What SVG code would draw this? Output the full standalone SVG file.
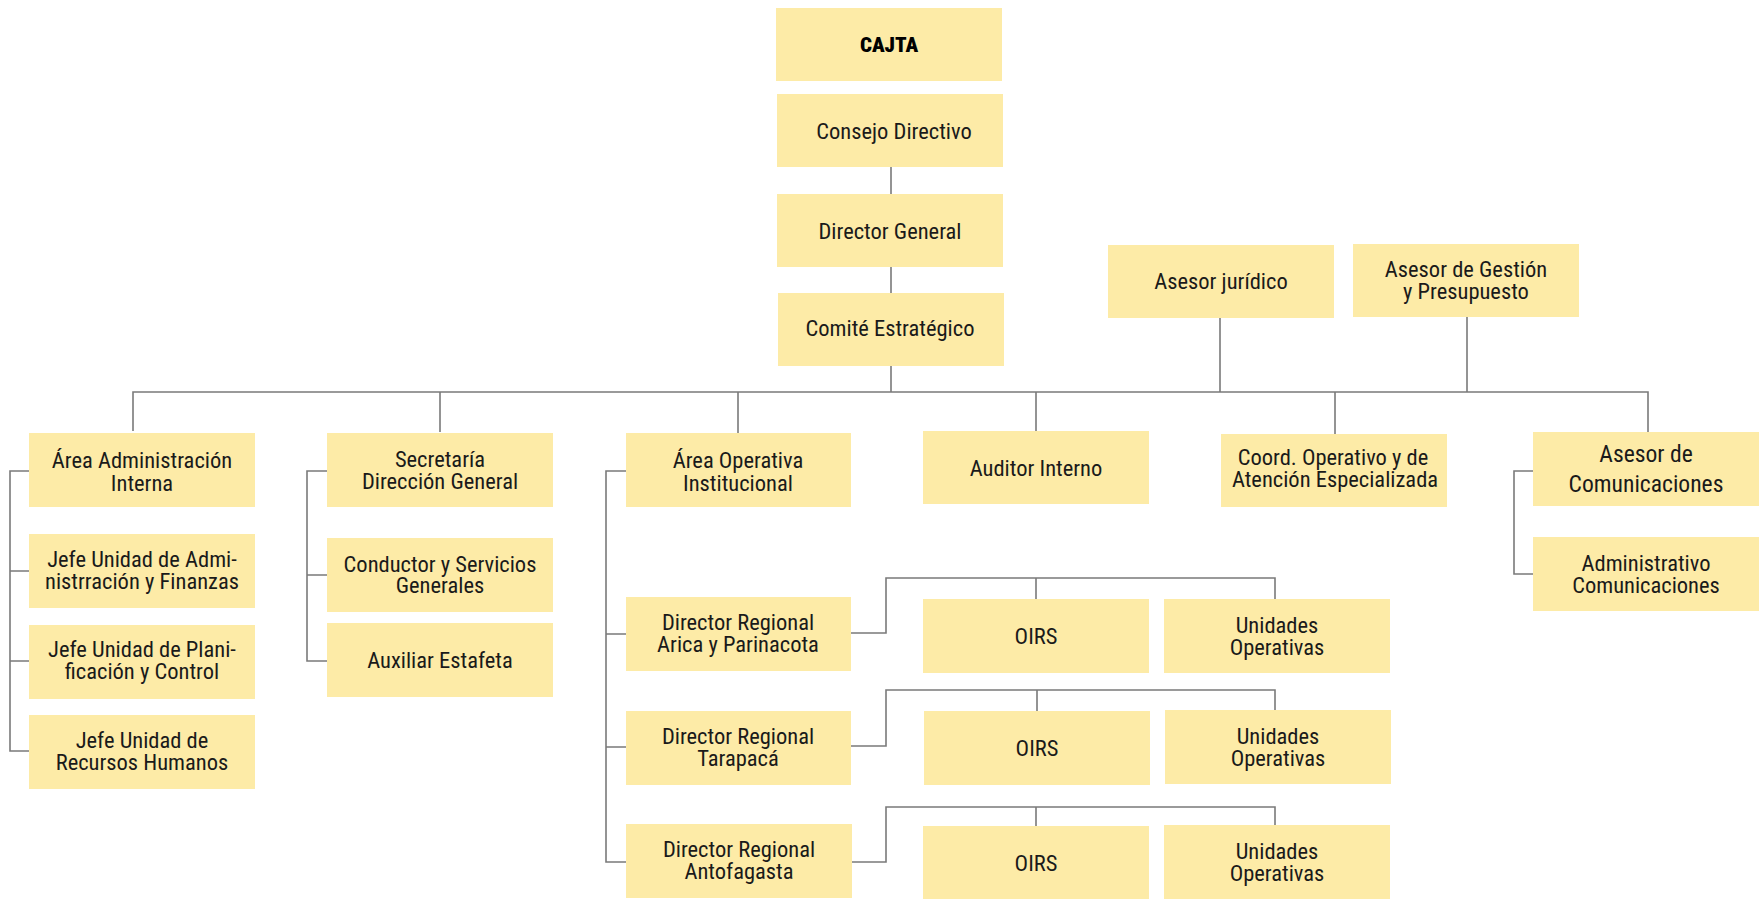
<svg xmlns="http://www.w3.org/2000/svg" width="1761" height="899" viewBox="0 0 1761 899">
<style>
.b{fill:#FDEBA7}
.t{font-family:"Liberation Sans Narrow","Arial Narrow","Roboto Condensed","DejaVu Sans Condensed",sans-serif;font-size:22.5px;fill:#1a1a1a;text-anchor:middle}
.h{font-weight:900;font-size:21px;fill:#000}
.l{font-size:23.6px}
.c{fill:none;stroke:#7a7a7a;stroke-width:1.6}
</style>
<rect width="1761" height="899" fill="#fff"/>
<g id="connectors" class="c">
<path d="M891 167V194M891 267V293M891 366V392"/>
<path d="M133 431V392H1648V432"/>
<path d="M440 392V432M738 392V433M1036 392V431M1335 392V434M1220 318V392M1467 317V392"/>
<path d="M29 471H10V751H29M10 571H29M10 661H29"/>
<path d="M327 471H307V661H327M307 575H327"/>
<path d="M626 471H606V862H626M606 634H626M606 747H626"/>
<path d="M851 633H886V578H1275V599M1036 578V599"/>
<path d="M851 746H886V690H1275V710M1037 690V711"/>
<path d="M852 862H886V807H1275V825M1036 807V826"/>
<path d="M1533 471H1514V574H1533"/>
</g>
<g id="cajta"><rect class="b" x="776" y="8" width="226" height="73"/><text class="t h" x="889" y="52">CAJTA</text></g>
<g id="consejo"><rect class="b" x="777" y="94" width="226" height="73"/><text class="t" x="894" y="139">Consejo Directivo</text></g>
<g id="director"><rect class="b" x="777" y="194" width="226" height="73"/><text class="t" x="890" y="239">Director General</text></g>
<g id="comite"><rect class="b" x="778" y="293" width="226" height="73"/><text class="t" x="890" y="336">Comité Estratégico</text></g>
<g id="juridico"><rect class="b" x="1108" y="245" width="226" height="73"/><text class="t" x="1221" y="289">Asesor jurídico</text></g>
<g id="gestion"><rect class="b" x="1353" y="244" width="226" height="73"/><text class="t" x="1466" y="277">Asesor de Gestión</text><text class="t" x="1466" y="299">y Presupuesto</text></g>
<g id="area-admin"><rect class="b" x="29" y="433" width="226" height="74"/><text class="t" x="142" y="468">Área Administración</text><text class="t" x="142" y="491">Interna</text></g>
<g id="jefe-admin"><rect class="b" x="29" y="534" width="226" height="74"/><text class="t" x="142" y="567">Jefe Unidad de Admi-</text><text class="t" x="142" y="589">nistrración y Finanzas</text></g>
<g id="jefe-plan"><rect class="b" x="29" y="625" width="226" height="74"/><text class="t" x="142" y="657">Jefe Unidad de Plani-</text><text class="t" x="142" y="679">ficación y Control</text></g>
<g id="jefe-rrhh"><rect class="b" x="29" y="715" width="226" height="74"/><text class="t" x="142" y="748">Jefe Unidad de</text><text class="t" x="142" y="770">Recursos Humanos</text></g>
<g id="secretaria"><rect class="b" x="327" y="433" width="226" height="74"/><text class="t" x="440" y="467">Secretaría</text><text class="t" x="440" y="489">Dirección General</text></g>
<g id="conductor"><rect class="b" x="327" y="538" width="226" height="74"/><text class="t" x="440" y="572">Conductor y Servicios</text><text class="t" x="440" y="593">Generales</text></g>
<g id="auxiliar"><rect class="b" x="327" y="623" width="226" height="74"/><text class="t" x="440" y="668">Auxiliar Estafeta</text></g>
<g id="area-op"><rect class="b" x="626" y="433" width="225" height="74"/><text class="t" x="738" y="468">Área Operativa</text><text class="t" x="738" y="491">Institucional</text></g>
<g id="auditor"><rect class="b" x="923" y="431" width="226" height="73"/><text class="t" x="1036" y="476">Auditor Interno</text></g>
<g id="coord"><rect class="b" x="1221" y="434" width="226" height="73"/><text class="t" x="1333" y="465">Coord. Operativo y de</text><text class="t" x="1335" y="487">Atención Especializada</text></g>
<g id="asesor-com"><rect class="b" x="1533" y="432" width="226" height="74"/><text class="t l" x="1646" y="462">Asesor de</text><text class="t l" x="1646" y="492">Comunicaciones</text></g>
<g id="admin-com"><rect class="b" x="1533" y="537" width="226" height="74"/><text class="t" x="1646" y="571">Administrativo</text><text class="t" x="1646" y="593">Comunicaciones</text></g>
<g id="arica"><rect class="b" x="626" y="597" width="225" height="74"/><text class="t" x="738" y="630">Director Regional</text><text class="t" x="738" y="652">Arica y Parinacota</text></g>
<g id="oirs1"><rect class="b" x="923" y="599" width="226" height="74"/><text class="t" x="1036" y="644">OIRS</text></g>
<g id="unid1"><rect class="b" x="1164" y="599" width="226" height="74"/><text class="t" x="1277" y="633">Unidades</text><text class="t" x="1277" y="655">Operativas</text></g>
<g id="tarapaca"><rect class="b" x="626" y="711" width="225" height="74"/><text class="t" x="738" y="744">Director Regional</text><text class="t" x="738" y="766">Tarapacá</text></g>
<g id="oirs2"><rect class="b" x="924" y="711" width="226" height="74"/><text class="t" x="1037" y="756">OIRS</text></g>
<g id="unid2"><rect class="b" x="1165" y="710" width="226" height="74"/><text class="t" x="1278" y="744">Unidades</text><text class="t" x="1278" y="766">Operativas</text></g>
<g id="antofagasta"><rect class="b" x="626" y="824" width="226" height="74"/><text class="t" x="739" y="857">Director Regional</text><text class="t" x="739" y="879">Antofagasta</text></g>
<g id="oirs3"><rect class="b" x="923" y="826" width="226" height="73"/><text class="t" x="1036" y="871">OIRS</text></g>
<g id="unid3"><rect class="b" x="1164" y="825" width="226" height="74"/><text class="t" x="1277" y="859">Unidades</text><text class="t" x="1277" y="881">Operativas</text></g>
</svg>
